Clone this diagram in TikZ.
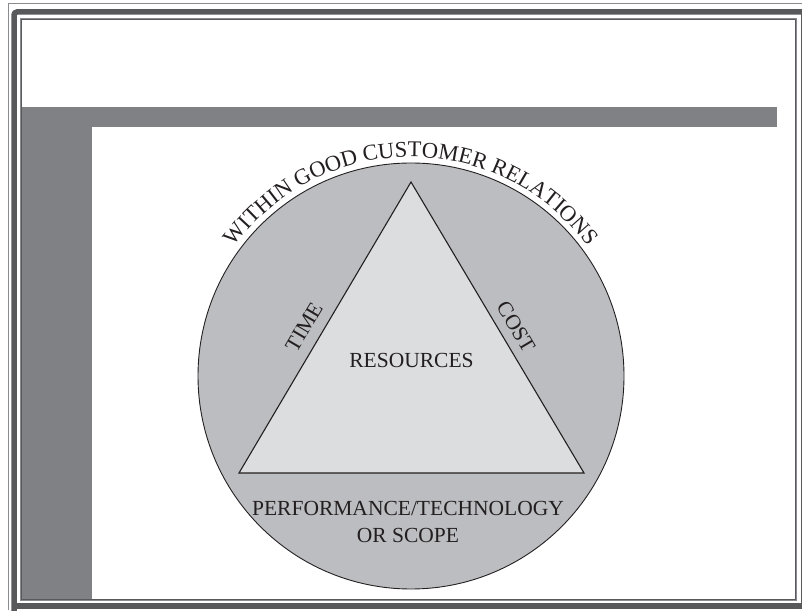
\documentclass[tikz,border=0pt]{standalone}
\usepackage{fontspec}
\setmainfont{Liberation Serif}
\usetikzlibrary{decorations.text}
\definecolor{framedark}{HTML}{58595B}
\definecolor{framegray}{HTML}{8A8B8E}
\definecolor{bargray}{HTML}{808184}
\definecolor{circgray}{HTML}{BCBDC0}
\definecolor{trigray}{HTML}{DCDDDF}
\definecolor{ink}{HTML}{231F20}
\tikzset{
  lbl/.style={text=ink, font=\fontsize{21.5}{24}\selectfont, inner sep=0pt},
  edgeline/.style={draw=ink, line width=1.1pt, line join=miter}
}
\begin{document}
\begin{tikzpicture}[x=1pt,y=1pt]
\useasboundingbox (0,0) rectangle (802,610);
\begin{scope}
\clip (0,0) rectangle (802,610);
% outer thin line
\draw[framegray, line width=1pt] (8,0) -- (8,606) -- (802,606);
% dark shadow frame
\draw[framedark, line width=5.5pt, rounded corners=3pt] (14,-10) -- (14,598) -- (815,598);
\draw[framedark, line width=6pt] (14,4) -- (812,4);
\draw[framedark, line width=5pt] (803,4) -- (803,598);
% inner frame
\draw[framegray, line width=1.2pt] (20.5,9.5) rectangle (796.5,591.5);
\draw[framedark, line width=0.8pt] (21.5,10.5) rectangle (795.5,590.5);
\end{scope}
% gray bars
\fill[bargray] (22,503) rectangle (777,483);
\fill[bargray] (22,503) rectangle (92,11);
% circle and triangle
\node[circle, draw=ink, line width=0.9pt, fill=circgray, minimum size=426pt, inner sep=0pt] (circ) at (411,234) {};
\coordinate (apex) at (411,428);
\coordinate (bl) at (239,137);
\coordinate (br) at (584,137);
\filldraw[fill=trigray, edgeline] (apex) -- (br) -- (bl) -- cycle;
% labels
\node[lbl, anchor=base] (res) at (411.5,242) {RESOURCES};
\node[lbl, anchor=base] (perf) at (408,95) {PERFORMANCE/TECHNOLOGY};
\node[lbl, anchor=base] (scope) at (408,68) {OR SCOPE};
\node[lbl, rotate=59.4] (time) at (304,283) {TIME};
\node[lbl, rotate=-59.4] (cost) at (516,283) {COST};
% curved text
\path[decorate, decoration={text along path, text align=center,
  text={|\fontsize{22.5}{25}\selectfont\color{ink}|WITHIN GOOD CUSTOMER RELATIONS}}]
  (circ.center) ++(160:219) arc[start angle=160, end angle=20, radius=219];
\end{tikzpicture}
\end{document}
